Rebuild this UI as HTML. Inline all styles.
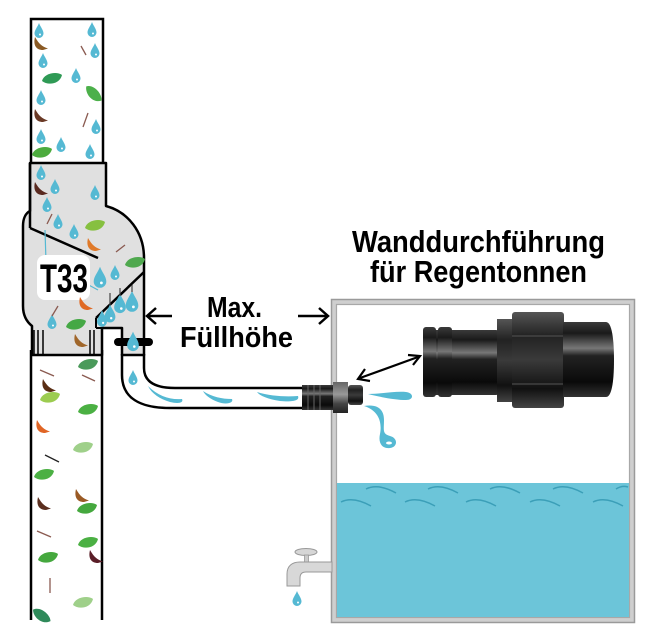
<!DOCTYPE html>
<html><head><meta charset="utf-8"><style>
html,body{margin:0;padding:0;background:#fff;}
svg{display:block;}
text{font-family:"Liberation Sans",sans-serif;font-weight:bold;fill:#000;}
</style></head><body>
<svg width="650" height="631" viewBox="0 0 650 631" xmlns="http://www.w3.org/2000/svg">
<defs>
<g id="dr"><path d="M0,-8 C1.5,-4 4.5,-1 4.5,2.5 A4.5,4.5 0 0 1 -4.5,2.5 C-4.5,-1 -1.5,-4 0,-8Z" fill="#55b9d3"/><circle cx="1" cy="3.5" r="1" fill="#fff"/></g>
<path id="lf" d="M-10,2 C-8,-6 5,-8 10,-4 C8,5 -4,7 -10,2Z"/>
<path id="cu" d="M-5,-8 C-7,0 -4,5 3,5 L8,3.5 C2,1.5 -1,-1 -5,-8Z"/>
<linearGradient id="blk" x1="0" y1="0" x2="0" y2="1">
<stop offset="0" stop-color="#3a3a3a"/><stop offset="0.15" stop-color="#1a1a1a"/><stop offset="0.35" stop-color="#777"/><stop offset="0.45" stop-color="#222"/><stop offset="0.8" stop-color="#0a0a0a"/><stop offset="1" stop-color="#333"/>
</linearGradient>
<linearGradient id="nut" x1="0" y1="0" x2="0" y2="1">
<stop offset="0" stop-color="#555"/><stop offset="0.25" stop-color="#222"/><stop offset="0.5" stop-color="#3a3a3a"/><stop offset="0.8" stop-color="#111"/><stop offset="1" stop-color="#444"/>
</linearGradient>
<linearGradient id="fit" x1="0" y1="0" x2="0" y2="1">
<stop offset="0" stop-color="#666"/><stop offset="0.4" stop-color="#999"/><stop offset="0.7" stop-color="#444"/><stop offset="1" stop-color="#222"/>
</linearGradient>
</defs>

<!-- tank -->
<rect x="334" y="302" width="298" height="318" fill="none" stroke="#cfcfcf" stroke-width="5"/>
<rect x="331.5" y="299.5" width="303" height="323" fill="none" stroke="#9a9a9a" stroke-width="1.5"/>
<rect x="336.5" y="304.5" width="293" height="313" fill="none" stroke="#a8a8a8" stroke-width="1.2"/>
<rect x="337" y="483" width="292" height="134" fill="#6cc5d9"/>
<g fill="none" stroke="#3b9fb8" stroke-width="1.5">
<path d="M366,489 q12,-6 30,4"/><path d="M428,489 q12,-6 30,4"/><path d="M490,489 q12,-6 30,4"/><path d="M553,489 q12,-6 30,4"/><path d="M616,489 q6,-4 12,-2"/>
<path d="M341,502 q12,-6 30,4"/><path d="M405,502 q12,-6 30,4"/><path d="M466,502 q12,-6 30,4"/><path d="M530,502 q12,-6 30,4"/><path d="M593,502 q12,-6 30,4"/>
</g>

<!-- faucet -->
<ellipse cx="306" cy="552" rx="11" ry="3.5" fill="#d6d6d6" stroke="#999" stroke-width="1"/>
<rect x="304.5" y="555" width="4" height="8" fill="#ccc" stroke="#999" stroke-width="0.8"/>
<path d="M332,562 H300 C292,562 287,566 287,574 V586 H300 V578 C300,574 302,572 306,572 H332 Z" fill="#d8d8d8" stroke="#999" stroke-width="1"/>
<use href="#dr" x="297" y="599"/>

<!-- top pipe -->
<rect x="31" y="19" width="72" height="146" fill="#fff" stroke="#000" stroke-width="2.5"/>
<!-- bottom pipe -->
<rect x="31" y="350" width="71" height="270" fill="#fff"/>
<line x1="31" y1="350" x2="31" y2="620" stroke="#000" stroke-width="2.5"/>
<line x1="102" y1="350" x2="102" y2="620" stroke="#000" stroke-width="2.5"/>

<!-- hose -->
<path d="M122,354 V375 C122,398 140,408 170,408 H303 V388 H175 C155,388 144,382 144,368 V354 Z" fill="#fff"/>
<path d="M122,354 V375 C122,398 140,408 170,408 H303" fill="none" stroke="#000" stroke-width="2.5"/>
<path d="M144,354 V368 C144,382 155,388 175,388 H303" fill="none" stroke="#000" stroke-width="2.5"/>
<g fill="#55b9d3">
<path d="M148,386 C158,396 170,400 182,399 C184,403 178,404 170,402 C160,399 152,394 148,386Z"/>
<path d="M203,391 C212,397 222,399 232,399 C234,403 226,405 218,402 C210,399 205,395 203,391Z"/>
<path d="M257,392 C270,396 285,397 298,396 C300,401 292,402 280,401 C268,399 260,396 257,392Z"/>
</g>
<use href="#dr" x="133" y="378"/>

<!-- T33 body -->
<path d="M30,163 H106 V206 C128,212 144,232 144,258 V355 H122 V328 H102 V355 H32 V326 C27,322 23,316 23,306 V226 C23,218 26,213 30,211 Z" fill="#e0e0e0" stroke="#000" stroke-width="2.5" stroke-linejoin="round"/>
<line x1="30" y1="163" x2="30" y2="228" stroke="#000" stroke-width="2.5"/>
<line x1="30" y1="228" x2="98" y2="258" stroke="#000" stroke-width="2.5"/>
<line x1="144" y1="272" x2="96" y2="318" stroke="#000" stroke-width="2.5"/>
<line x1="96" y1="318" x2="96" y2="328" stroke="#000" stroke-width="2"/>
<line x1="96" y1="328" x2="122" y2="328" stroke="#000" stroke-width="2"/>
<g stroke="#000" stroke-width="1.5">
<line x1="34" y1="330" x2="34" y2="355"/><line x1="38" y1="330" x2="38" y2="355"/><line x1="43" y1="330" x2="43" y2="355"/>
<line x1="90" y1="330" x2="90" y2="355"/><line x1="94" y1="330" x2="94" y2="355"/>
<line x1="122" y1="355" x2="144" y2="355"/>
</g>
<path d="M45,230 L46,262 L98,290" fill="none" stroke="#55b9d3" stroke-width="1.2"/>
<rect x="37" y="255" width="53" height="45" rx="8" fill="#fff"/>
<text x="40" y="292" font-size="40" textLength="48" lengthAdjust="spacingAndGlyphs">T33</text>

<!-- clamp -->
<line x1="118" y1="342" x2="149" y2="342" stroke="#000" stroke-width="8" stroke-linecap="round"/>

<!-- drops & leaves in pipes -->
<g>
<use href="#dr" x="39" y="31"/><use href="#dr" x="92" y="30"/><use href="#dr" x="95" y="51"/><use href="#dr" x="43" y="61"/>
<use href="#dr" x="76" y="76"/><use href="#dr" x="41" y="98"/><use href="#dr" x="96" y="127"/><use href="#dr" x="41" y="137"/>
<use href="#dr" x="61" y="145"/><use href="#dr" x="90" y="152"/>
<use href="#dr" x="41" y="173"/><use href="#dr" x="55" y="187"/><use href="#dr" x="47" y="205"/><use href="#dr" x="95" y="193"/>
<use href="#dr" x="58" y="222"/><use href="#dr" x="74" y="232"/><use href="#dr" x="115" y="273"/><use href="#dr" x="52" y="322"/>
<g transform="translate(100,278) scale(1.4)"><use href="#dr"/></g>
<g transform="translate(132,302) scale(1.4)"><use href="#dr"/></g>
<g transform="translate(120,304) scale(1.3)"><use href="#dr"/></g>
<g transform="translate(110,314) scale(1.2)"><use href="#dr"/></g>
<g transform="translate(102,319) scale(1.1)"><use href="#dr"/></g>
<g transform="translate(133,342) scale(1.3)"><use href="#dr"/></g>
</g>
<g stroke="#444" stroke-width="1.2">
<line x1="110" y1="293" x2="110" y2="305"/><line x1="120" y1="288" x2="120" y2="296"/><line x1="132" y1="285" x2="132" y2="292"/>
</g>
<g>
<use href="#cu" x="40" y="45" fill="#8a5a24"/>
<use href="#lf" x="52" y="79" fill="#2f9a55"/>
<use href="#lf" x="93" y="94" fill="#4cb04a" transform="rotate(60 93 94)"/>
<use href="#cu" x="40" y="117" fill="#6a3a26"/>
<use href="#lf" x="42" y="153" fill="#4cab3e"/>
<use href="#cu" x="40" y="190" fill="#5a2a20"/>
<use href="#lf" x="95" y="226" fill="#86c040"/>
<use href="#cu" x="93" y="246" fill="#e07a2a"/>
<use href="#lf" x="135" y="263" fill="#4fa84e"/>
<use href="#cu" x="85" y="305" fill="#e06a25"/>
<use href="#lf" x="76" y="325" fill="#45a845"/>
<use href="#cu" x="80" y="342" fill="#a0662a"/>
<use href="#lf" x="88" y="365" fill="#4a9a5a"/>
<use href="#cu" x="48" y="387" fill="#5a2e14"/>
<use href="#lf" x="50" y="398" fill="#9ccc50"/>
<use href="#lf" x="88" y="410" fill="#4bb043"/>
<use href="#cu" x="42" y="428" fill="#e06525"/>
<use href="#lf" x="83" y="448" fill="#9fd08a"/>
<use href="#lf" x="44" y="475" fill="#4bb043"/>
<use href="#cu" x="43" y="505" fill="#5a2e1e"/>
<use href="#cu" x="81" y="497" fill="#9a5a25"/>
<use href="#lf" x="87" y="509" fill="#45a83e"/>
<use href="#lf" x="88" y="543" fill="#4bb043"/>
<use href="#lf" x="48" y="558" fill="#45a83e"/>
<use href="#cu" x="95" y="558" fill="#5a1e28"/>
<use href="#lf" x="83" y="603" fill="#9fd08a"/>
<use href="#lf" x="41" y="616" fill="#2f8a5a" transform="rotate(50 41 616)"/>
</g>
<g stroke="#8a5a50" stroke-width="1.3">
<line x1="81" y1="46" x2="86" y2="55"/><line x1="88" y1="113" x2="83" y2="127"/>
<line x1="47" y1="224" x2="52" y2="214"/><line x1="116" y1="252" x2="125" y2="245"/><line x1="52" y1="316" x2="58" y2="306"/>
<line x1="40" y1="370" x2="54" y2="376"/><line x1="82" y1="375" x2="95" y2="381"/>
<line x1="45" y1="455" x2="59" y2="462" stroke="#222"/><line x1="37" y1="531" x2="51" y2="537"/><line x1="50" y1="578" x2="50" y2="593"/>
</g>

<!-- hose fitting -->
<rect x="302" y="385" width="31" height="25" fill="url(#blk)"/>
<g stroke="#666" stroke-width="1"><line x1="308" y1="385" x2="308" y2="410"/><line x1="314" y1="385" x2="314" y2="410"/><line x1="320" y1="385" x2="320" y2="410"/></g>
<rect x="333" y="382" width="15" height="31" fill="url(#fit)"/>
<rect x="348" y="385" width="15" height="20" rx="3" fill="url(#nut)"/>

<!-- water jets -->
<path d="M368,394 C380,394 395,391 406,392 C414,393 414,400 406,400 C395,400 380,397 368,394Z" fill="#55b9d3"/>
<path d="M364,406 C376,404 384,408 384,420 C384,430 382,434 390,436 C398,438 398,447 390,448 C382,449 378,443 380,434 C382,424 380,411 364,406Z" fill="#55b9d3"/>
<ellipse cx="389" cy="443" rx="3" ry="1.5" fill="#fff"/>

<!-- double arrow -->
<g stroke="#000" stroke-width="2.2" fill="none">
<line x1="360" y1="378" x2="418" y2="357"/>
<path d="M365,369 L358,379 L370,381"/>
<path d="M408,355 L420,356 L413,365"/>
</g>

<!-- connector photo -->
<rect x="423" y="330" width="77" height="65" rx="4" fill="url(#blk)"/>
<rect x="423" y="327" width="13" height="70" rx="3" fill="url(#blk)"/>
<rect x="438" y="327" width="14" height="70" rx="3" fill="url(#blk)"/>
<rect x="497" y="319" width="16" height="83" fill="url(#nut)"/>
<rect x="512" y="312" width="52" height="96" rx="3" fill="url(#nut)"/>
<g stroke="#555" stroke-width="1"><line x1="512" y1="336" x2="564" y2="336"/><line x1="512" y1="384" x2="564" y2="384"/></g>
<path d="M563,322 H606 C612,322 614,340 614,360 C614,380 612,397 606,397 H563 Z" fill="url(#blk)"/>

<!-- Max arrows -->
<g stroke="#000" stroke-width="2.5" fill="none">
<line x1="147" y1="316" x2="172" y2="316"/><path d="M156,308 L147,316 L156,324"/>
<line x1="298" y1="316" x2="328" y2="316"/><path d="M319,308 L328,316 L319,324"/>
</g>

<!-- text -->
<text x="207" y="317" font-size="29" textLength="55" lengthAdjust="spacingAndGlyphs">Max.</text>
<text x="180" y="347" font-size="29" textLength="113" lengthAdjust="spacingAndGlyphs">Füllhöhe</text>
<text x="352" y="252" font-size="31" textLength="253" lengthAdjust="spacingAndGlyphs">Wanddurchführung</text>
<text x="370" y="282" font-size="31" textLength="217" lengthAdjust="spacingAndGlyphs">für Regentonnen</text>
</svg>
</body></html>
